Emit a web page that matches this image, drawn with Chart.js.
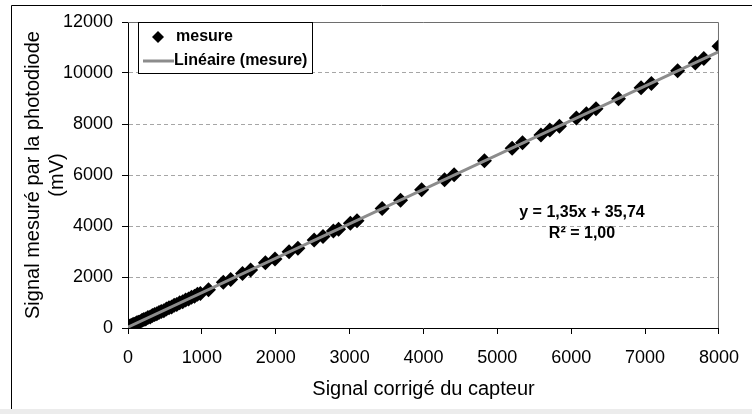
<!DOCTYPE html>
<html>
<head>
<meta charset="utf-8">
<script src="https://cdn.jsdelivr.net/npm/chart.js@4/dist/chart.umd.min.js"></script>
<style>
  html, body { margin: 0; padding: 0; background: #fff; }
  canvas { display: block; }
</style>
</head>
<body>
<canvas id="calibration" width="752" height="414"></canvas>
<script>
// measured points: corrected sensor signal vs photodiode signal (mV)
var signalCapteur = [0, 15, 30, 45, 60, 80, 100, 120, 140, 165, 190, 215, 240, 270, 300, 330, 360, 390, 420, 450,
    485, 520, 555, 590, 625, 660, 700, 740, 780, 820, 860, 900, 940, 980, 1090, 1290, 1390, 1550, 1660, 1860,
    1990, 2180, 2300, 2520, 2640, 2780, 2850, 3010, 3100, 3440, 3690, 3975, 4285, 4415, 4825, 5200, 5340, 5590,
    5710, 5840, 6070, 6205, 6335, 6640, 6945, 7085, 7440, 7680, 7795, 8000];
var signalPhotodiode = [20, 60, 85, 90, 125, 150, 165, 205, 230, 250, 300, 335, 350, 410, 430, 490, 530, 555, 610, 650,
    680, 745, 790, 825, 890, 920, 990, 1030, 1100, 1135, 1210, 1245, 1320, 1350, 1500, 1790, 1900, 2140, 2270, 2560,
    2710, 2990, 3130, 3450, 3590, 3800, 3870, 4110, 4210, 4690, 5010, 5420, 5810, 6010, 6560, 7050, 7260, 7570,
    7760, 7910, 8240, 8400, 8600, 8990, 9420, 9590, 10090, 10390, 10570, 11050];

// linear trend (from the equation shown on the chart)
var fitSlope = 1.35;
var fitIntercept = 35.74;
var fitRange = [0, 8000];
var fitLabels = ['y = 1,35x + 35,74', 'R\u00B2 = 1,00'];

var legendLabels = ['mesure', 'Lin\u00E9aire (mesure)'];

var xMax = 8000, xStep = 1000;
var yMax = 12000, yStep = 2000;

var FONT = '"Liberation Sans", Arial, sans-serif';

var mesures = signalCapteur.map(function (x, i) { return { x: x, y: signalPhotodiode[i] }; });
var trend = fitRange.map(function (x) { return { x: x, y: fitSlope * x + fitIntercept }; });

// frame, plot box, legend and equation
var decorations = {
    id: 'decorations',
    beforeDraw: function (chart) {
        var ctx = chart.ctx;
        ctx.save();
        ctx.fillStyle = '#fff';
        ctx.fillRect(0, 0, chart.width, chart.height);
        ctx.fillStyle = '#ececec';
        ctx.fillRect(0, 409, chart.width, chart.height - 409);
        ctx.strokeStyle = '#000';
        ctx.lineWidth = 1;
        ctx.beginPath();
        ctx.moveTo(11.5, 409);
        ctx.lineTo(11.5, 5.5);
        ctx.lineTo(chart.width, 5.5);
        ctx.stroke();
        ctx.restore();
    },
    afterDraw: function (chart) {
        var ctx = chart.ctx;
        var a = chart.chartArea;
        ctx.save();
        // top and right sides of the plot box
        ctx.strokeStyle = '#6e6e6e';
        ctx.lineWidth = 1;
        ctx.beginPath();
        ctx.moveTo(a.left, a.top + 0.5);
        ctx.lineTo(a.right - 0.5, a.top + 0.5);
        ctx.lineTo(a.right - 0.5, a.bottom);
        ctx.stroke();

        // legend box
        var lx = 138, ly = 22, lw = 174, lh = 51;
        ctx.fillStyle = '#fff';
        ctx.fillRect(lx, ly, lw, lh);
        ctx.strokeStyle = '#000';
        ctx.strokeRect(lx + 0.5, ly + 0.5, lw, lh);

        ctx.fillStyle = '#000';
        ctx.beginPath();
        ctx.moveTo(158, 31);
        ctx.lineTo(164, 37);
        ctx.lineTo(158, 43);
        ctx.lineTo(152, 37);
        ctx.closePath();
        ctx.fill();

        ctx.strokeStyle = '#8c8c8c';
        ctx.lineWidth = 3;
        ctx.beginPath();
        ctx.moveTo(143, 61);
        ctx.lineTo(174, 61);
        ctx.stroke();

        ctx.fillStyle = '#000';
        ctx.font = 'bold 16px ' + FONT;
        ctx.textBaseline = 'middle';
        ctx.textAlign = 'left';
        ctx.fillText(legendLabels[0], 176, 37);
        ctx.fillText(legendLabels[1], 174, 61);

        // regression equation
        ctx.textAlign = 'center';
        ctx.fillText(fitLabels[0], 582, 213);
        ctx.fillText(fitLabels[1], 582, 234);
        ctx.restore();
    }
};

function plainTick(value) { return String(value); }

new Chart(document.getElementById('calibration'), {
    type: 'scatter',
    data: {
        datasets: [
            {
                label: legendLabels[1],
                data: trend,
                showLine: true,
                borderColor: '#8c8c8c',
                borderWidth: 3,
                pointRadius: 0,
                order: 0
            },
            {
                label: legendLabels[0],
                data: mesures,
                pointStyle: 'rectRot',
                pointRadius: 7.5,
                backgroundColor: '#000',
                borderColor: '#000',
                borderWidth: 0,
                order: 1
            }
        ]
    },
    options: {
        responsive: false,
        animation: false,
        devicePixelRatio: 1,
        layout: { padding: { top: 22, right: 20, left: 0, bottom: 0 } },
        plugins: {
            legend: { display: false },
            tooltip: { enabled: false }
        },
        scales: {
            x: {
                type: 'linear',
                min: 0,
                max: xMax,
                afterFit: function (s) { s.height = 86; },
                ticks: {
                    stepSize: xStep,
                    padding: 13,
                    color: '#000',
                    maxRotation: 0,
                    callback: plainTick,
                    font: { family: FONT, size: 18 }
                },
                grid: {
                    drawOnChartArea: false,
                    tickLength: 6,
                    tickColor: '#000'
                },
                border: { color: '#000', width: 1 },
                title: {
                    display: true,
                    text: 'Signal corrig\u00E9 du capteur',
                    color: '#000',
                    padding: { top: 0, bottom: 13 },
                    font: { family: FONT, size: 20 }
                }
            },
            y: {
                min: 0,
                max: yMax,
                afterFit: function (s) { s.width = 128; },
                ticks: {
                    stepSize: yStep,
                    padding: 9,
                    color: '#000',
                    callback: plainTick,
                    font: { family: FONT, size: 18 }
                },
                grid: {
                    tickLength: 6,
                    tickColor: '#000',
                    color: function (c) {
                        var v = c.tick ? c.tick.value : 0;
                        return (v === 0 || v === yMax) ? 'rgba(0,0,0,0)' : '#a6a6a6';
                    }
                },
                border: { color: '#000', width: 1, dash: [4, 3] },
                title: {
                    display: true,
                    text: ['Signal mesur\u00E9 par la photodiode', '(mV)'],
                    color: '#000',
                    padding: { top: 21, bottom: 0 },
                    font: { family: FONT, size: 20 }
                }
            }
        }
    },
    plugins: [decorations]
});
</script>
</body>
</html>
